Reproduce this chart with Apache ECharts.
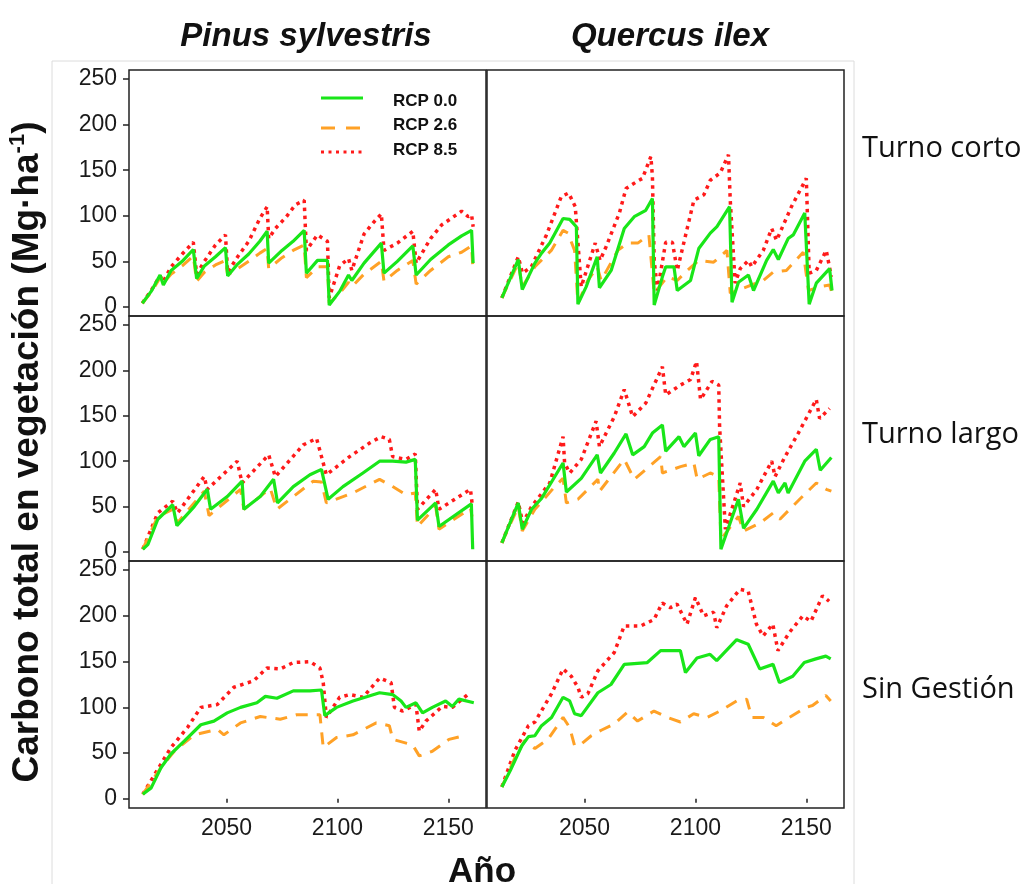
<!DOCTYPE html>
<html>
<head>
<meta charset="utf-8">
<script src="https://cdn.jsdelivr.net/npm/echarts@6/dist/echarts.min.js"></script>
<style>
  html, body { margin: 0; padding: 0; background: #fff; }
  #chart { width: 1022px; height: 884px; }
</style>
</head>
<body>
<div id="chart"></div>
<script>
// especies (columnas) y tipos de gestion (filas)
var especies = ['Pinus sylvestris', 'Quercus ilex'];
var gestiones = ['Turno corto', 'Turno largo', 'Sin Gestión'];
var escenarios = ['RCP 0.0', 'RCP 2.6', 'RCP 8.5'];
var yTicks = [0, 50, 100, 150, 200, 250];
var xTicks = [2050, 2100, 2150];

/* Pinus - Turno corto */
var pinusCorto00 = [[2012,4],[2016,17],[2020,35],[2021.5,24],[2025,40],[2030,50],[2035,63],[2036.5,31],[2040,45],[2045,55],[2049.5,65],[2050.5,34],[2055,47],[2060,58],[2065,72],[2068.3,83],[2069,48],[2075,62],[2080,72],[2085,84],[2086,37],[2091,51],[2095.5,51],[2096.3,2],[2101,17],[2105,35],[2106.5,29],[2112,48],[2119.8,70],[2121,37],[2127,50],[2134,67],[2135.5,35],[2142,52],[2150,68],[2156,78],[2160.5,84],[2161.2,48]];
var pinusCorto26 = [[2012,4],[2016,16],[2020,32],[2021.5,26],[2025,36],[2030,45],[2035,56],[2036.5,28],[2040,38],[2045,46],[2049.5,51],[2050.5,35],[2055,42],[2060,50],[2065,59],[2068.3,64],[2069,42],[2075,54],[2080,62],[2085,68],[2086,32],[2091,44],[2095.5,44],[2096.3,4],[2101,15],[2105,27],[2106.5,22],[2112,36],[2119.8,50],[2121,28],[2127,40],[2134,51],[2135.5,25],[2142,40],[2150,55],[2156,60],[2160.5,67],[2161.2,38]];
var pinusCorto85 = [[2012,4],[2016,18],[2020,34],[2021.5,28],[2025,44],[2030,58],[2035,71],[2036.5,36],[2040,50],[2045,68],[2049.5,79],[2050.5,38],[2055,55],[2060,72],[2065,97],[2068.3,110],[2069,75],[2072,86],[2077,99],[2081,112],[2085,117],[2086,62],[2091,79],[2095.5,72],[2096.3,10],[2101,45],[2105,53],[2106.5,40],[2112,80],[2116,92],[2119.8,102],[2121,62],[2127,70],[2134,83],[2135.5,48],[2142,75],[2147,90],[2156,105],[2159,99],[2160.5,101],[2161.2,88]];

/* Quercus - Turno corto */
var quercusCorto00 = [[2012.7,10],[2020.1,52],[2021.9,19],[2027.6,48],[2030.6,59],[2034.3,70],[2040.3,97],[2043.3,96],[2046.3,88],[2047,3],[2050.7,22],[2055.7,55],[2056.7,21],[2062,40],[2067.9,86],[2072.4,99],[2077.6,106],[2080.6,119],[2081.4,2],[2085.1,33],[2086.6,44],[2090.3,44],[2091.8,18],[2097.8,29],[2101.5,64],[2106.7,81],[2109.7,88],[2115.4,110],[2116.5,5],[2119.4,27],[2123.9,35],[2126.2,18],[2132.1,51],[2135.1,63],[2137.4,52],[2141.8,75],[2144.1,79],[2149.3,103],[2151.3,3],[2154.5,26],[2160.5,42],[2161.6,18]];
var quercusCorto26 = [[2012.7,10],[2020.1,48],[2021.9,22],[2027.6,44],[2035,62],[2040.3,84],[2042.5,81],[2045.5,62],[2047,4],[2051.5,29],[2055.7,44],[2057.5,29],[2065,62],[2069.4,70],[2074,70],[2079,79],[2081.4,15],[2087.3,33],[2091.8,29],[2096.3,40],[2101.5,51],[2108.2,49],[2114.2,62],[2115.7,15],[2123.1,22],[2130.6,29],[2135,38],[2141,40],[2148.6,60],[2151,18],[2156,22],[2160.5,24],[2161.6,15]];
var quercusCorto85 = [[2012.7,10],[2020.1,55],[2022,37],[2026,44],[2032.8,79],[2039.5,121],[2042.8,125],[2045.8,110],[2048.5,22],[2054.8,70],[2057,51],[2059.7,66],[2065.7,103],[2068.7,130],[2073.2,137],[2076.1,141],[2079.9,165],[2080.6,143],[2081.4,51],[2082.9,18],[2086.6,71],[2089.6,71],[2091.8,40],[2099.3,117],[2103.8,123],[2106.7,139],[2111.2,147],[2114.9,167],[2115.7,117],[2117.9,26],[2120.2,42],[2123.9,51],[2125.4,44],[2130.6,62],[2134.4,86],[2136.6,73],[2143.3,110],[2150,141],[2151.3,37],[2154.5,40],[2159,62],[2161.3,33]];

/* Pinus - Turno largo */
var pinusLargo00 = [[2012.2,3],[2014.5,8],[2019,36],[2025.7,52],[2027.6,29],[2035.4,50],[2041.3,69],[2042.8,47],[2050.3,61],[2057,78],[2057.8,47],[2065.2,61],[2071.2,80],[2073,54],[2080.1,72],[2087.6,85],[2092.8,91],[2095.8,58],[2102.5,72],[2111.5,87],[2119,100],[2124.9,100],[2130.9,99],[2135.1,102],[2136.1,35],[2144.3,54],[2145.8,28],[2160.4,53],[2161,3]];
var pinusLargo26 = [[2012.2,3],[2019,39],[2025.7,47],[2027.8,32],[2039.9,67],[2042.1,40],[2056.3,69],[2057.8,47],[2069.7,70],[2072.7,47],[2089.1,78],[2092.8,77],[2095,54],[2107,65],[2119,80],[2124.9,72],[2130.9,63],[2135.1,65],[2136.1,28],[2144.3,50],[2145.8,25],[2160,48],[2160.7,39]];
var pinusLargo85 = [[2012.2,3],[2019,43],[2025.7,56],[2027.9,43],[2039.9,83],[2041.3,69],[2054.8,100],[2057,76],[2069,107],[2072,83],[2084.6,118],[2090.6,125],[2093.6,98],[2095,85],[2105.5,105],[2114.5,120],[2119.7,127],[2123.4,124],[2124.9,105],[2130.9,102],[2135.1,108],[2136.1,47],[2144.3,69],[2145.8,47],[2160,69],[2160.7,54]];

/* Quercus - Turno largo */
var quercusLargo00 = [[2012.7,10],[2020.1,54],[2021.9,25],[2026.1,47],[2030.6,59],[2040.3,98],[2041.8,66],[2048.5,81],[2055.7,107],[2057.2,87],[2063.4,109],[2068.7,130],[2071.7,107],[2076.9,116],[2080.6,131],[2085.1,140],[2086.6,111],[2092.6,127],[2094.8,116],[2100,131],[2101.5,106],[2106.7,124],[2110.5,127],[2111.5,3],[2119.4,58],[2121.7,26],[2127.7,47],[2135.1,78],[2137.4,65],[2140.4,76],[2141.8,65],[2149.3,100],[2154.5,113],[2156.3,90],[2161.3,104]];
var quercusLargo26 = [[2012.7,10],[2020.1,50],[2021.9,23],[2027.6,47],[2036.6,72],[2040.3,81],[2041.8,54],[2047,58],[2056,80],[2056.8,67],[2067.9,102],[2072.4,80],[2084.3,105],[2085.1,87],[2093.3,94],[2099.3,98],[2100.8,80],[2106.7,87],[2110.5,83],[2111.5,14],[2119.4,39],[2121.7,23],[2129.2,32],[2135.1,43],[2138.1,36],[2147,58],[2154.5,76],[2159,69],[2161.3,67]];
var quercusLargo85 = [[2012.7,10],[2020.1,55],[2022.1,32],[2026.1,50],[2034.3,76],[2040.3,127],[2041,98],[2043.3,87],[2048.5,102],[2055.2,144],[2056.7,116],[2063.4,149],[2067.9,179],[2071.7,149],[2077.6,164],[2085.1,204],[2086.6,173],[2093.3,184],[2097.8,190],[2100.5,210],[2102.3,168],[2107.5,188],[2110.5,184],[2110.9,138],[2113.5,25],[2120.2,76],[2121.7,50],[2127.7,69],[2134.4,100],[2135.9,83],[2140.4,105],[2146.4,131],[2154.5,168],[2156,147],[2160.5,158]];

/* Pinus - Sin gestion */
var pinusSin00 = [[2012.2,5],[2016,12],[2020.4,34],[2024.9,49],[2030.9,63],[2038.4,81],[2044.3,85],[2050.3,94],[2056.3,100],[2063.7,105],[2067.5,112],[2072.7,110],[2080.1,118],[2087.6,118],[2092.8,119],[2094.3,91],[2099.6,100],[2107,107],[2119,116],[2124.9,114],[2128.7,107],[2130.9,100],[2135.4,105],[2138.4,94],[2142.8,100],[2148.8,107],[2151.8,101],[2154.8,109],[2161.5,105]];
var pinusSin26 = [[2012.2,5],[2020.4,34],[2026.4,52],[2035.4,70],[2045.8,76],[2048.8,70],[2056.3,83],[2065.2,90],[2074.2,87],[2081.6,92],[2092.1,92],[2093.6,56],[2099.6,67],[2107,70],[2117.5,83],[2123.4,80],[2125,65],[2133.9,59],[2136.9,47],[2142.8,52],[2150.3,65],[2158.5,70]];
var pinusSin85 = [[2012.2,5],[2020.4,38],[2024.9,56],[2032.4,78],[2038.4,100],[2045.8,103],[2053.3,122],[2062.2,129],[2068.2,143],[2074.2,142],[2080.1,149],[2087.6,150],[2092.1,143],[2093.6,127],[2095,89],[2101,111],[2105.5,114],[2111.5,111],[2119,132],[2124.2,127],[2125.7,100],[2129.4,96],[2135.4,103],[2136.9,74],[2139.9,85],[2147.3,101],[2151.8,100],[2159.3,115]];

/* Quercus - Sin gestion */
var quercusSin00 = [[2012.7,13],[2016.5,31],[2021.7,58],[2024.7,68],[2027.6,69],[2030.6,80],[2035.1,89],[2040.3,111],[2043.3,107],[2045.5,93],[2048.5,91],[2056,116],[2061.9,125],[2067.9,147],[2078.3,149],[2084.3,162],[2093.2,162],[2095.5,138],[2100.7,154],[2106.6,158],[2109.6,151],[2118.6,174],[2123.8,169],[2129,142],[2135,147],[2137.9,127],[2143.9,134],[2149.1,149],[2154.3,153],[2158.8,156],[2161,153]];
var quercusSin26 = [[2012.7,13],[2018.6,45],[2023.1,64],[2027.6,55],[2033.5,65],[2040.3,89],[2043.3,78],[2045.5,58],[2048.5,60],[2053,69],[2057.5,75],[2063.4,82],[2069.4,95],[2073.9,85],[2081.3,96],[2087.3,89],[2093.2,84],[2099.2,93],[2105.2,89],[2111.1,96],[2118.6,107],[2123.1,109],[2125.4,89],[2130.6,89],[2136.4,80],[2142.4,89],[2149.9,100],[2152.8,102],[2158.8,113],[2161,107]];
var quercusSin85 = [[2012.7,13],[2018.6,53],[2024.7,80],[2027.6,84],[2035.1,115],[2040.3,142],[2044,134],[2047,122],[2048.5,111],[2051.5,115],[2056,140],[2063.4,160],[2067.9,189],[2075.3,189],[2081.3,196],[2085,214],[2088.7,209],[2091.7,213],[2096.2,191],[2100,220],[2103.7,200],[2108.2,204],[2109.6,187],[2114.1,211],[2120,229],[2123.8,227],[2127.5,191],[2130.5,178],[2134.9,191],[2137.2,162],[2142.4,182],[2148.4,200],[2152.1,194],[2157.3,222],[2160.3,216]];

var paneles = [
  [pinusCorto00, pinusCorto26, pinusCorto85],
  [quercusCorto00, quercusCorto26, quercusCorto85],
  [pinusLargo00, pinusLargo26, pinusLargo85],
  [quercusLargo00, quercusLargo26, quercusLargo85],
  [pinusSin00, pinusSin26, pinusSin85],
  [quercusSin00, quercusSin26, quercusSin85]
];

var colores = ['#19e619', '#ffa126', '#ff1a1a'];
var tipos = ['solid', [12, 9], [3.5, 4.5]];
var anchos = [3.2, 3, 3.5];

var chart = echarts.init(document.getElementById('chart'));

var colLeft = [129, 487];
var colWidth = 357;
var rowTop = [70, 316, 561];
var rowHeight = [246, 245, 247];

var grids = [], xAxes = [], yAxes = [], series = [];
for (var r = 0; r < 3; r++) {
  for (var c = 0; c < 2; c++) {
    var i = r * 2 + c;
    grids.push({
      left: colLeft[c], top: rowTop[r], width: colWidth, height: rowHeight[r],
      show: true, borderColor: '#222', borderWidth: 1.5, backgroundColor: 'transparent'
    });
    var bottomRow = (r === 2);
    xAxes.push({
      type: 'value', gridIndex: i, min: 2006, max: 2167,
      axisLine: { show: false }, splitLine: { show: false },
      axisTick: { show: bottomRow, customValues: xTicks, length: 4, lineStyle: { color: '#222', width: 1.5 } },
      axisLabel: { show: bottomRow, customValues: xTicks, margin: 9,
        formatter: function (v) { return String(v); },
        fontFamily: 'Liberation Sans', fontSize: 23, color: '#1a1a1a' }
    });
    var leftCol = (c === 0);
    yAxes.push({
      type: 'value', gridIndex: i, min: -10, max: 260,
      axisLine: { show: false }, splitLine: { show: false },
      axisTick: { show: leftCol, customValues: yTicks, length: 6, lineStyle: { color: '#222', width: 1.5 } },
      axisLabel: { show: leftCol, customValues: yTicks, margin: 12,
        formatter: function (v) { return String(v); },
        fontFamily: 'Liberation Sans', fontSize: 23, color: '#1a1a1a' }
    });
    // dibujar rojo, naranja y verde (verde encima)
    for (var s = 2; s >= 0; s--) {
      series.push({
        type: 'line', name: escenarios[s], xAxisIndex: i, yAxisIndex: i,
        data: paneles[i][s], showSymbol: false, symbol: 'none', smooth: false,
        lineStyle: { color: colores[s], width: anchos[s], type: tipos[s], cap: 'butt' },
        z: 3 - s
      });
    }
  }
}

var legendY = [98, 128, 152];
var legendTextY = [101, 125, 150];
var graphics = [
  { type: 'rect', silent: true, z: -1, shape: { x: 52, y: 61, width: 802, height: 840 },
    style: { fill: 'none', stroke: '#dcdcdc', lineWidth: 1 } },
  { type: 'text', x: 28, y: 452, rotation: Math.PI / 2, z: 10,
    style: {
      text: '{a|Carbono total en vegetación (Mg·ha}{s|-1}{a|)}',
      align: 'center', verticalAlign: 'middle',
      rich: {
        a: { fontFamily: 'Liberation Sans', fontWeight: 'bold', fontSize: 37, lineHeight: 42, fill: '#111' },
        s: { fontFamily: 'Liberation Sans', fontWeight: 'bold', fontSize: 22, verticalAlign: 'top', fill: '#111' }
      }
    } },
  { type: 'text', x: 482, y: 855, z: 10,
    style: { text: 'Año', align: 'center', verticalAlign: 'top',
      font: 'bold 35px "Liberation Sans"', fill: '#111' } }
];
var colCenter = [306, 670];
for (var c2 = 0; c2 < 2; c2++) {
  graphics.push({ type: 'text', x: colCenter[c2], y: 37, z: 10,
    style: { text: especies[c2], align: 'center', verticalAlign: 'middle',
      font: 'italic bold 33px "Liberation Sans"', fill: '#111' } });
}
var rowCenter = [149, 435, 690];
for (var r2 = 0; r2 < 3; r2++) {
  graphics.push({ type: 'text', x: 862, y: rowCenter[r2], z: 10,
    style: { text: gestiones[r2], align: 'left', verticalAlign: 'middle',
      font: '29px "Open Sans"', fill: '#111' } });
}
for (var k = 0; k < 3; k++) {
  graphics.push({ type: 'line', z: 10, shape: { x1: 321, y1: legendY[k], x2: 363, y2: legendY[k] },
    style: { stroke: colores[k], lineWidth: 3, lineDash: k === 0 ? null : (k === 1 ? [14, 11] : [3, 4.5]) } });
  graphics.push({ type: 'text', x: 393, y: legendTextY[k], z: 10,
    style: { text: escenarios[k], align: 'left', verticalAlign: 'middle',
      font: 'bold 17px "Liberation Sans"', fill: '#111' } });
}

chart.setOption({
  animation: false,
  backgroundColor: '#fff',
  grid: grids,
  xAxis: xAxes,
  yAxis: yAxes,
  series: series,
  graphic: graphics
});
</script>
</body>
</html>
